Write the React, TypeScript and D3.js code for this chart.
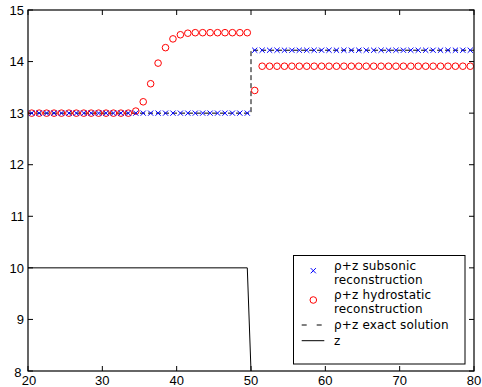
import React from "react";
import * as d3 from "d3";

const xCenters = [
  20.5, 21.5, 22.5, 23.5, 24.5, 25.5, 26.5, 27.5, 28.5, 29.5,
  30.5, 31.5, 32.5, 33.5, 34.5, 35.5, 36.5, 37.5, 38.5, 39.5,
  40.5, 41.5, 42.5, 43.5, 44.5, 45.5, 46.5, 47.5, 48.5, 49.5,
  50.5, 51.5, 52.5, 53.5, 54.5, 55.5, 56.5, 57.5, 58.5, 59.5,
  60.5, 61.5, 62.5, 63.5, 64.5, 65.5, 66.5, 67.5, 68.5, 69.5,
  70.5, 71.5, 72.5, 73.5, 74.5, 75.5, 76.5, 77.5, 78.5, 79.5,
];

const subsonic = [
  13, 13, 13, 13, 13, 13, 13, 13, 13, 13,
  13, 13, 13, 13, 13, 13, 13, 13, 13, 13,
  13, 13, 13, 13, 13, 13, 13, 13, 13, 13,
  14.22, 14.22, 14.22, 14.22, 14.22, 14.22, 14.22, 14.22, 14.22, 14.22,
  14.22, 14.22, 14.22, 14.22, 14.22, 14.22, 14.22, 14.22, 14.22, 14.22,
  14.22, 14.22, 14.22, 14.22, 14.22, 14.22, 14.22, 14.22, 14.22, 14.22,
];

const hydrostatic = [
  13, 13, 13, 13, 13, 13, 13, 13, 13, 13,
  13, 13, 13, 13, 13.04, 13.22, 13.57, 13.97, 14.27, 14.44,
  14.52, 14.55, 14.56, 14.56, 14.56, 14.56, 14.56, 14.56, 14.56, 14.56,
  13.44, 13.91, 13.91, 13.91, 13.91, 13.91, 13.91, 13.91, 13.91, 13.91,
  13.91, 13.91, 13.91, 13.91, 13.91, 13.91, 13.91, 13.91, 13.91, 13.91,
  13.91, 13.91, 13.91, 13.91, 13.91, 13.91, 13.91, 13.91, 13.91, 13.91,
];

const exactX = [20, 50, 50, 80];
const exactY = [13, 13, 14.22, 14.22];

const zX = [20, 49.5, 50.5, 80];
const zY = [10, 10, 6, 6];

const xTicks = [20, 30, 40, 50, 60, 70, 80];
const yTicks = [8, 9, 10, 11, 12, 13, 14, 15];

const legendLabels = [
  ["ρ+z subsonic", "reconstruction"],
  ["ρ+z hydrostatic", "reconstruction"],
  ["ρ+z exact solution"],
  ["z"],
];

const W = 482;
const H = 387;
const L = 28, R = 474, T = 10, B = 371;
const FONT = "'Liberation Sans', Arial, Helvetica, sans-serif";
const LEGEND_FONT = "'DejaVu Sans', Verdana, sans-serif";

export default function App() {
  const x = d3.scaleLinear().domain([20, 80]).range([L, R]);
  const y = d3.scaleLinear().domain([8, 15]).range([B, T]);
  const line = d3
    .line<[number, number]>()
    .x((d) => x(d[0]))
    .y((d) => y(d[1]));

  const exactPts = exactX.map((v, i) => [v, exactY[i]] as [number, number]);
  const zPts = zX.map((v, i) => [v, zY[i]] as [number, number]);
  const tl = 5;
  const cs = 2.6;

  const lx = 293.5, ly = 255.5, lw = 171.5, lh = 108.5;
  const mx = 313.3;
  const tx = 334;

  return (
    <svg
      width={W}
      height={H}
      style={{ position: "absolute", left: 0, top: 0, background: "#fff" }}
      fontFamily={FONT}
    >
      <defs>
        <clipPath id="plot">
          <rect x={L} y={T} width={R - L} height={B - T} />
        </clipPath>
      </defs>
      <rect x={0} y={0} width={W} height={H} fill="#fff" />

      {/* ticks */}
      {xTicks.map((t) => (
        <g key={"xt" + t}>
          <line x1={x(t)} x2={x(t)} y1={B} y2={B - tl} stroke="#000" />
          <line x1={x(t)} x2={x(t)} y1={T} y2={T + tl} stroke="#000" />
          <text
            x={t === 20 ? x(t) + 1 : x(t)}
            y={384.5}
            textAnchor="middle"
            fontSize={13}
          >
            {t}
          </text>
        </g>
      ))}
      {yTicks.map((t) => (
        <g key={"yt" + t}>
          <line x1={L} x2={L + tl} y1={y(t)} y2={y(t)} stroke="#000" />
          <line x1={R} x2={R - tl} y1={y(t)} y2={y(t)} stroke="#000" />
          <text
            x={t === 8 ? 21.5 : 24}
            y={t === 8 ? 377 : y(t) + 4.7}
            textAnchor="end"
            fontSize={13}
          >
            {t}
          </text>
        </g>
      ))}

      <g clipPath="url(#plot)">
        <path
          d={line(zPts) || ""}
          fill="none"
          stroke="#000"
          strokeWidth={1}
        />
        <path
          d={line(exactPts) || ""}
          fill="none"
          stroke="#000"
          strokeWidth={1}
          strokeDasharray="5,3"
        />
        {xCenters.map((xv, i) => (
          <circle
            key={"h" + i}
            cx={x(xv)}
            cy={y(hydrostatic[i])}
            r={3.3}
            fill="none"
            stroke="#ff0000"
            strokeWidth={1}
          />
        ))}
        {xCenters.map((xv, i) => {
          const cx = x(xv);
          const cy = y(subsonic[i]);
          return (
            <path
              key={"s" + i}
              d={`M${cx - cs},${cy - cs}L${cx + cs},${cy + cs}M${cx - cs},${cy + cs}L${cx + cs},${cy - cs}`}
              stroke="#0000ff"
              strokeWidth={1}
              fill="none"
            />
          );
        })}
      </g>

      <rect
        x={L}
        y={T}
        width={R - L}
        height={B - T}
        fill="none"
        stroke="#000"
        strokeWidth={1.2}
      />

      {/* legend */}
      <rect
        x={lx}
        y={ly}
        width={lw}
        height={lh}
        fill="#fff"
        stroke="#000"
        strokeWidth={1}
      />
      <path
        d={`M${mx - cs},${270.7 - cs}L${mx + cs},${270.7 + cs}M${mx - cs},${270.7 + cs}L${mx + cs},${270.7 - cs}`}
        stroke="#0000ff"
        strokeWidth={1}
        fill="none"
      />
      <circle cx={mx} cy={300} r={3.3} fill="none" stroke="#ff0000" strokeWidth={1} />
      <line x1={301.7} x2={324.3} y1={325} y2={325} stroke="#000" strokeDasharray="5,10" />
      <line x1={301.7} x2={324.3} y1={340.7} y2={340.7} stroke="#000" />
      <g fontSize={12} fontFamily={LEGEND_FONT} letterSpacing={0.15}>
        <text x={tx} y={270}>
          <tspan x={tx} y={270}>{legendLabels[0][0]}</tspan>
          <tspan x={tx} y={284}>{legendLabels[0][1]}</tspan>
        </text>
        <text x={tx} y={299}>
          <tspan x={tx} y={299}>{legendLabels[1][0]}</tspan>
          <tspan x={tx} y={313.3}>{legendLabels[1][1]}</tspan>
        </text>
        <text x={tx} y={328.5}>{legendLabels[2][0]}</text>
        <text x={tx} y={345}>{legendLabels[3][0]}</text>
      </g>
    </svg>
  );
}
